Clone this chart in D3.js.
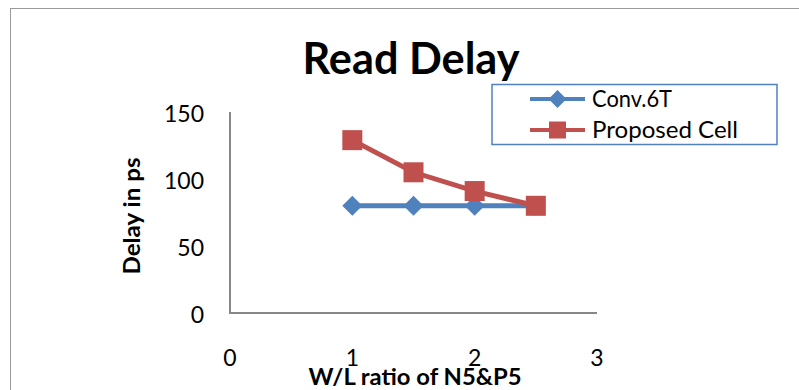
<!DOCTYPE html>
<html><head><meta charset="utf-8">
<script src="https://cdn.jsdelivr.net/npm/d3@7"></script>
<style>body{margin:0;background:#fff;} svg{display:block;font-family:Lato,"Open Sans",sans-serif;}</style>
</head><body>
<script>
const xValues = [1, 1.5, 2, 2.5];
const conv6T = [80, 80, 80, 80];
const proposedCell = [129, 105, 91, 80];
const seriesNames = ["Conv.6T", "Proposed Cell"];
const xTicks = [0, 1, 2, 3];
const yTicks = [0, 50, 100, 150];
const titleText = "Read Delay";
const xTitle = "W/L ratio of N5&P5";
const yTitle = "Delay in ps";

const W = 799, H = 390;
const svg = d3.select("body").append("svg").attr("width", W).attr("height", H);
svg.append("rect").attr("x", 10.5).attr("y", 8.5).attr("width", 900).attr("height", 500)
  .attr("fill", "#fff").attr("stroke", "#9a9a9a").attr("stroke-width", 1);

const x = d3.scaleLinear().domain([0, 3]).range([230, 597]);
const y = d3.scaleLinear().domain([0, 150]).range([313, 112]);

// axes lines
svg.append("line").attr("x1", x(0)).attr("x2", x(0)).attr("y1", y(150)).attr("y2", y(0))
  .attr("stroke", "#888").attr("stroke-width", 2);
svg.append("line").attr("x1", x(0) - 1).attr("x2", x(3)).attr("y1", y(0)).attr("y2", y(0))
  .attr("stroke", "#888").attr("stroke-width", 2);

// y tick labels
svg.selectAll(".yt").data(yTicks).join("text").attr("class", "yt")
  .attr("x", 204).attr("y", d => y(d) + 10).attr("text-anchor", "end")
  .attr("font-size", 23).attr("fill", "#000").text(d => d);
// x tick labels
svg.selectAll(".xt").data(xTicks).join("text").attr("class", "xt")
  .attr("x", d => x(d)).attr("y", 366).attr("text-anchor", "middle")
  .attr("font-size", 23).attr("fill", "#000").text(d => d);

// title
svg.append("text").attr("x", 411).attr("y", 74).attr("text-anchor", "middle")
  .attr("font-size", 43).attr("font-weight", "bold")
  .attr("textLength", 217).attr("lengthAdjust", "spacingAndGlyphs").text(titleText);
// x title
svg.append("text").attr("x", 415).attr("y", 385).attr("text-anchor", "middle")
  .attr("font-size", 23).attr("font-weight", "bold")
  .attr("textLength", 213).attr("lengthAdjust", "spacingAndGlyphs").text(xTitle);
// y title
svg.append("text").attr("transform", "translate(140,216) rotate(-90)").attr("text-anchor", "middle")
  .attr("font-size", 23).attr("font-weight", "bold")
  .attr("textLength", 117).attr("lengthAdjust", "spacingAndGlyphs").text(yTitle);

const blue = "#4F81BD", red = "#C0504D";
const line = d3.line().x(d => x(d[0])).y(d => y(d[1]));
const s1 = xValues.map((v, i) => [v, conv6T[i]]);
const s2 = xValues.map((v, i) => [v, proposedCell[i]]);

svg.append("path").datum(s1).attr("d", line).attr("fill", "none").attr("stroke", blue).attr("stroke-width", 5);
svg.selectAll(".m1").data(s1).join("path").attr("class", "m1")
  .attr("transform", d => `translate(${x(d[0])},${y(d[1])})`)
  .attr("d", "M0,-10L10,0L0,10L-10,0Z").attr("fill", blue);

svg.append("path").datum(s2).attr("d", line).attr("fill", "none").attr("stroke", red).attr("stroke-width", 5);
svg.selectAll(".m2").data(s2).join("rect").attr("class", "m2")
  .attr("x", d => x(d[0]) - 10).attr("y", d => y(d[1]) - 10).attr("width", 20).attr("height", 20)
  .attr("fill", red);

// legend
svg.append("rect").attr("x", 492).attr("y", 84.5).attr("width", 285).attr("height", 60)
  .attr("fill", "#fff").attr("stroke", blue).attr("stroke-width", 1.5);
const legendWidths = [80, 146];
const lg = svg.selectAll(".lg").data(seriesNames).join("g").attr("class", "lg")
  .attr("transform", (d, i) => `translate(0,${99 + i * 31})`);
lg.append("line").attr("x1", 530).attr("x2", 585).attr("stroke", (d, i) => i ? red : blue).attr("stroke-width", 4);
lg.filter((d, i) => i === 0).append("path").attr("d", "M557.5,-9L566.5,0L557.5,9L548.5,0Z").attr("fill", blue);
lg.filter((d, i) => i === 1).append("rect").attr("x", 549).attr("y", -8.5).attr("width", 17).attr("height", 17).attr("fill", red);
lg.append("text").attr("x", 592).attr("y", 8).attr("font-size", 23)
  .attr("textLength", (d, i) => legendWidths[i]).attr("lengthAdjust", "spacingAndGlyphs").text(d => d);
</script>
</body></html>
